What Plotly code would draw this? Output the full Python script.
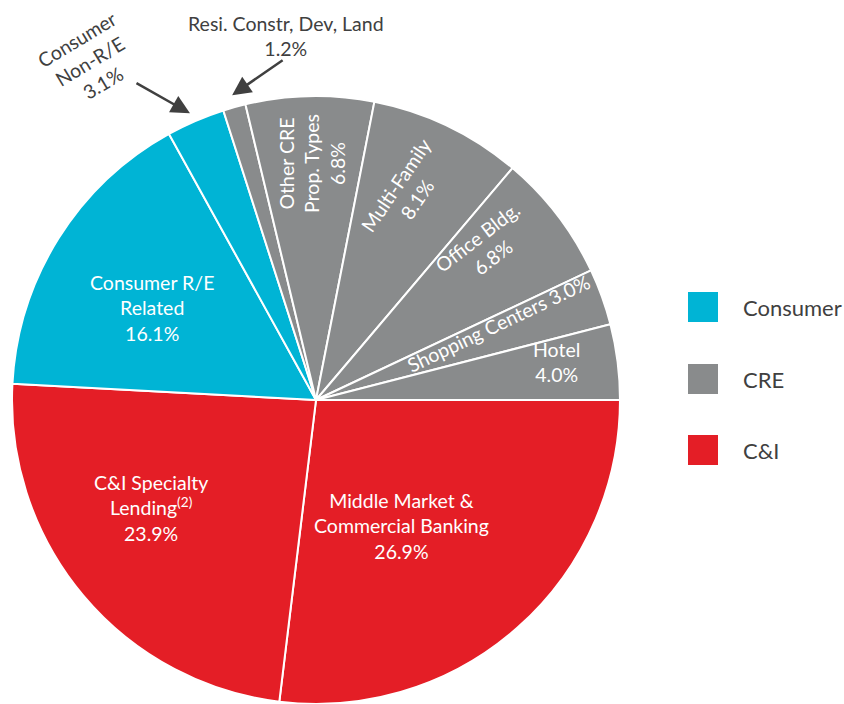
import math
import plotly.graph_objects as go

# ---- data ----
slice_labels = ["Middle Market & Commercial Banking", "C&I Specialty Lending", "Consumer R/E Related",
                "Consumer Non-R/E", "Resi. Constr, Dev, Land", "Other CRE Prop. Types",
                "Multi-Family", "Office Bldg.", "Shopping Centers", "Hotel"]
slice_values = [26.9, 23.9, 16.1, 3.1, 1.2, 6.8, 8.1, 6.8, 3.0, 4.0]
slice_groups = ["C&I", "C&I", "Consumer", "Consumer", "CRE", "CRE", "CRE", "CRE", "CRE", "CRE"]
label_texts = ["Middle Market &<br>Commercial Banking<br>26.9%",
               "C&I Specialty<br>Lending<sup>(2)</sup><br>23.9%",
               "Consumer R/E<br>Related<br>16.1%",
               "Consumer<br>Non-R/E<br>3.1%",
               "Resi. Constr, Dev, Land<br>1.2%",
               "Other CRE<br>Prop. Types<br>6.8%",
               "Multi-Family<br>8.1%",
               "Office Bldg.<br>6.8%",
               "Shopping Centers 3.0%",
               "Hotel<br>4.0%"]
legend_groups = ["Consumer", "CRE", "C&I"]

# ---- style ----
W, H = 844, 704
group_colors = {"Consumer": "#00B4D5", "CRE": "#898B8C", "C&I": "#E41E26"}
FONT = "Lato, Carlito, Calibri, sans-serif"
CX, CY, R = 316, 400, 304
# per label: (radius factor, angle offset deg, textangle, color)
label_style = [
    (0.50, 7.4, 0, "white"),
    (0.65, 6.7, 0, "white"),
    (0.62, -2.7, 0, "white"),
    (1.34, -10.3, -31, "#404040"),
    (1.20, 10.8, 0, "#404040"),
    (0.78, 0.2, -90, "white"),
    (0.745, -2.1, -56, "white"),
    (0.75, -4.7, -37.5, "white"),
    (0.65, -2.9, -25.5, "white"),
    (0.80, -1.8, 0, "white"),
]
# arrows: slice index -> (head radius factor, angle offset, tail dx, tail dy)
arrow_style = {3: (1.03, -0.4, -55, -31), 4: (1.04, 0.2, 52, -36)}


def px2paper(px, py):
    return px / W, 1 - py / H


def polar(angle_deg, rf):
    a = math.radians(angle_deg)
    return CX + rf * R * math.cos(a), CY + rf * R * math.sin(a)


total = sum(slice_values)
mids = []
cum = 0
for v in slice_values:
    mids.append((cum + v / 2) / total * 360.0)  # clockwise from 3 o'clock
    cum += v

fig = go.Figure()
fig.add_trace(go.Pie(
    values=slice_values, labels=slice_labels, sort=False, direction="clockwise", rotation=90,
    marker=dict(colors=[group_colors[g] for g in slice_groups], line=dict(color="white", width=2)),
    textinfo="none", hoverinfo="label+value", showlegend=False,
    domain=dict(x=[(CX - R) / W, (CX + R) / W], y=[1 - (CY + R) / H, 1 - (CY - R) / H]),
))

annotations = []
for i, txt in enumerate(label_texts):
    rf, da, ta, col = label_style[i]
    px, py = polar(mids[i] + da, rf)
    x, y = px2paper(px, py)
    annotations.append(dict(x=x, y=y, xref="paper", yref="paper", text=txt, showarrow=False,
                            textangle=ta, font=dict(family=FONT, size=19.5, color=col),
                            xanchor="center", yanchor="middle"))
for i, (rf, da, tdx, tdy) in arrow_style.items():
    px, py = polar(mids[i] + da, rf)
    x, y = px2paper(px, py)
    annotations.append(dict(x=x, y=y, xref="paper", yref="paper", text="", showarrow=True,
                            ax=tdx, ay=tdy, arrowhead=2, arrowsize=1.5, arrowwidth=2.5,
                            arrowcolor="#404040", standoff=0))

shapes = []
leg_y = [307, 379, 450]
for g, ly in zip(legend_groups, leg_y):
    x0, y0 = px2paper(688, ly - 15)
    x1, y1 = px2paper(718, ly + 15)
    shapes.append(dict(type="rect", xref="paper", yref="paper", x0=x0, x1=x1, y0=y0, y1=y1,
                       fillcolor=group_colors[g], line=dict(width=0)))
    tx, ty = px2paper(741, ly)
    annotations.append(dict(x=tx, y=ty, xref="paper", yref="paper", text=g, showarrow=False,
                            xanchor="left", yanchor="middle",
                            font=dict(family=FONT, size=22, color="#404040")))

fig.update_layout(width=W, height=H, margin=dict(l=0, r=0, t=0, b=0),
                  paper_bgcolor="white", plot_bgcolor="white",
                  annotations=annotations, shapes=shapes)
fig.write_html("out.html")
